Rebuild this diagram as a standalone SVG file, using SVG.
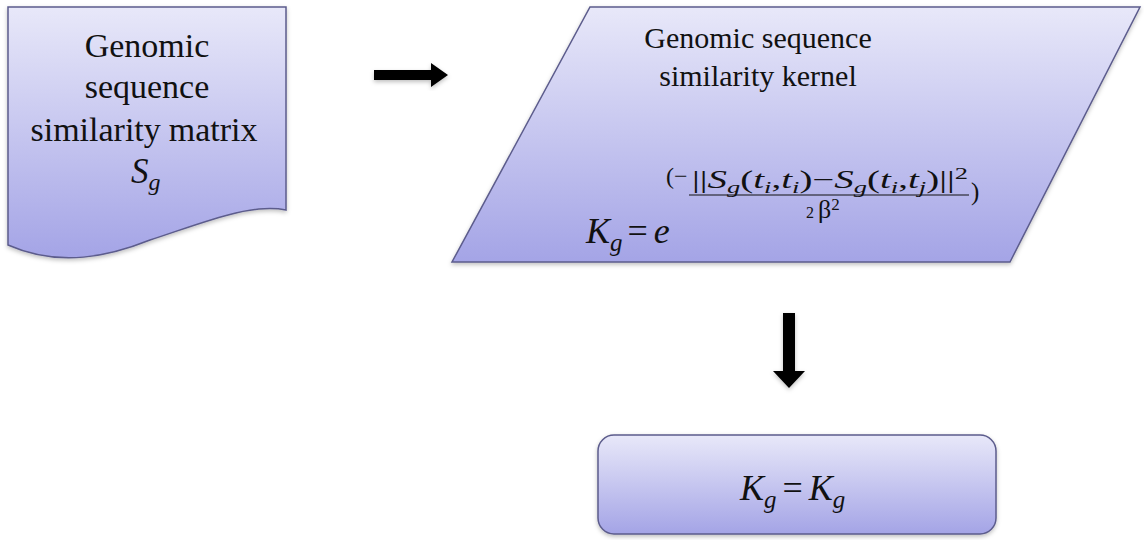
<svg xmlns="http://www.w3.org/2000/svg" width="1144" height="540" viewBox="0 0 1144 540">
<defs>
<linearGradient id="fill" x1="0" y1="0" x2="0" y2="1">
<stop offset="0" stop-color="#e8e8f9"/>
<stop offset="1" stop-color="#a4a4e6"/>
</linearGradient>
<filter id="sh" x="-10%" y="-10%" width="120%" height="125%">
<feDropShadow dx="0" dy="2" stdDeviation="2" flood-color="#000" flood-opacity="0.25"/>
</filter>
</defs>
<style>
.shape{fill:url(#fill);stroke:#5c5c8c;stroke-width:1.5;filter:url(#sh)}
.t{font-family:"Liberation Serif","Times New Roman",serif;fill:#111;text-anchor:middle}
.m{font-family:"Liberation Serif","Times New Roman",serif;font-style:italic;fill:#111}
.n{font-style:normal}
.arrow{fill:#000;filter:url(#sh)}
</style>
<rect width="1144" height="540" fill="#fff"/>
<g id="connectors">
<path class="arrow" d="M374,70 H431 V63 L448,75 L431,87 V80 H374 Z"/>
<path class="arrow" d="M783,313 H795 V371 H805 L789,388 L773,371 H783 Z"/>
</g>
<g id="matrix">
<path class="shape" d="M8,7 H286 V210 C250,203 205,222 150,240 C110,256 60,268 8,245 Z"/>
<text class="t" x="147" y="57" font-size="34">Genomic</text>
<text class="t" x="147" y="98" font-size="34">sequence</text>
<text class="t" x="144" y="141" font-size="34">similarity<tspan dx="8">matrix</tspan></text>
<text class="m" x="131" y="183" font-size="35">S<tspan font-size="24" dy="7">g</tspan></text>
</g>
<g id="kernel">
<path class="shape" d="M590,7 H1140 L1010,262 H452 Z"/>
<text class="t" x="758" y="48" font-size="30">Genomic sequence</text>
<text class="t" x="758" y="86" font-size="30">similarity kernel</text>
<text class="m" x="586" y="243" font-size="36">K<tspan font-size="25" dy="8">g</tspan><tspan class="n" dy="-8" dx="5">=</tspan><tspan dx="6">e</tspan></text>
<text class="m" x="666" y="184" font-size="24"><tspan class="n">(−</tspan></text>
<text class="m" x="692" y="188" font-size="25" textLength="276" lengthAdjust="spacingAndGlyphs"><tspan class="n">||</tspan>S<tspan font-size="17" dy="5">g</tspan><tspan class="n" dy="-5">(</tspan>t<tspan font-size="17" dy="5">i</tspan><tspan class="n" dy="-5">,</tspan>t<tspan font-size="17" dy="5">i</tspan><tspan class="n" dy="-5">)−</tspan>S<tspan font-size="17" dy="5">g</tspan><tspan class="n" dy="-5">(</tspan>t<tspan font-size="17" dy="5">i</tspan><tspan class="n" dy="-5">,</tspan>t<tspan font-size="17" dy="5">j</tspan><tspan class="n" dy="-5">)||</tspan><tspan class="n" font-size="17" dy="-9">2</tspan></text>
<line x1="689" y1="195" x2="969" y2="195" stroke="#111" stroke-width="1.2"/>
<text class="m" x="806" y="218" font-size="16"><tspan class="n">2 </tspan><tspan class="n" font-size="26">β</tspan><tspan class="n" font-size="17" dy="-8">2</tspan></text>
<text class="m" x="971" y="200" font-size="25"><tspan class="n">)</tspan></text>
</g>
<g id="result">
<rect class="shape" x="598" y="435" width="398" height="99" rx="16"/>
<text class="m" x="740" y="500" font-size="36">K<tspan font-size="25" dy="8">g</tspan><tspan class="n" dy="-8" dx="6">=</tspan><tspan dx="6">K</tspan><tspan font-size="25" dy="8">g</tspan></text>
</g>
</svg>
